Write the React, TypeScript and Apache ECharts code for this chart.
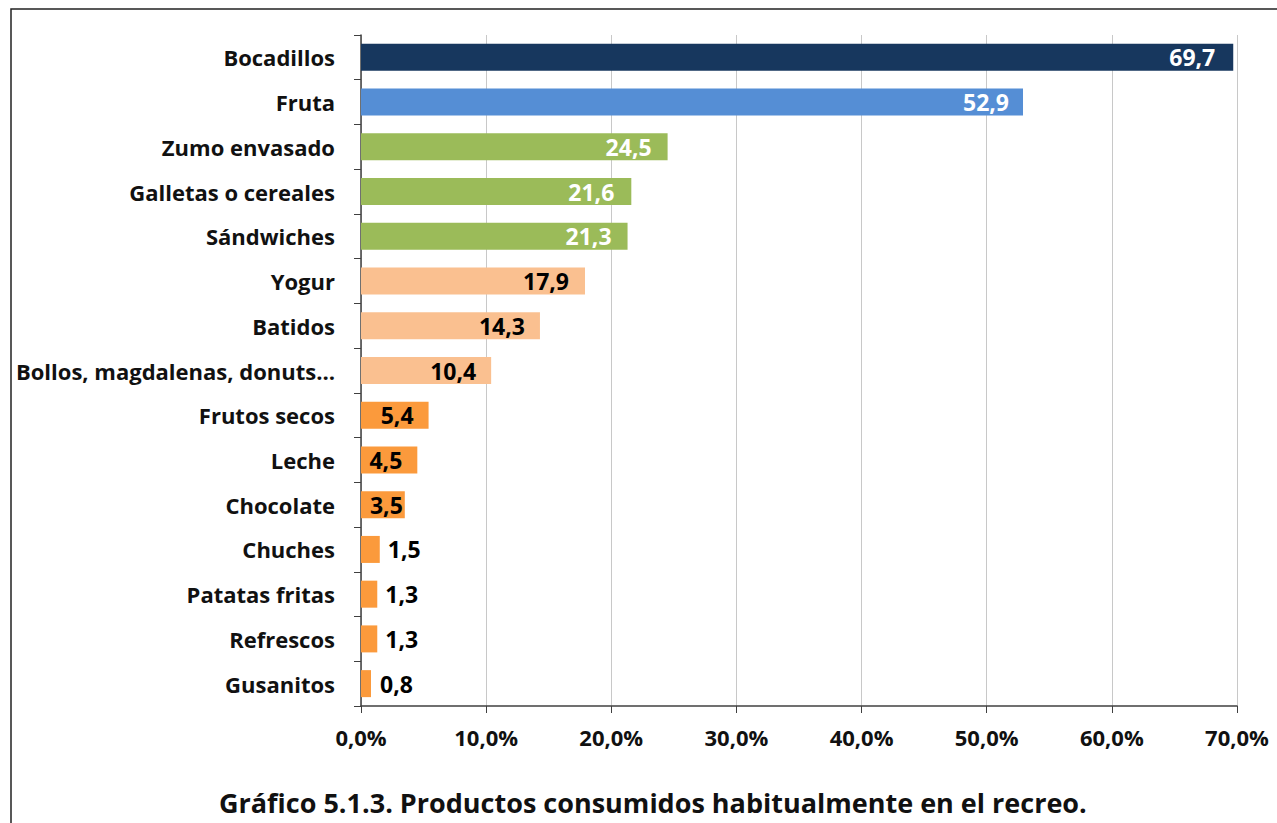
import React, { useEffect, useRef } from "react";
import * as echarts from "echarts";

const categories = [
  "Bocadillos",
  "Fruta",
  "Zumo envasado",
  "Galletas o cereales",
  "Sándwiches",
  "Yogur",
  "Batidos",
  "Bollos, magdalenas, donuts…",
  "Frutos secos",
  "Leche",
  "Chocolate",
  "Chuches",
  "Patatas fritas",
  "Refrescos",
  "Gusanitos",
];
const values = [69.7, 52.9, 24.5, 21.6, 21.3, 17.9, 14.3, 10.4, 5.4, 4.5, 3.5, 1.5, 1.3, 1.3, 0.8];
const barColors = [
  "#17375E", "#558ED5", "#9BBB59", "#9BBB59", "#9BBB59",
  "#FAC090", "#FAC090", "#FAC090",
  "#FB9A3C", "#FB9A3C", "#FB9A3C", "#FB9A3C", "#FB9A3C", "#FB9A3C", "#FB9A3C",
];
const labelColors = [
  "#FFFFFF", "#FFFFFF", "#FFFFFF", "#FFFFFF", "#FFFFFF",
  "#000000", "#000000", "#000000", "#000000", "#000000", "#000000",
  "#000000", "#000000", "#000000", "#000000",
];
const labelInside = [true, true, true, true, true, true, true, true, true, true, true, false, false, false, false];
const labelGap = [18, 14, 16, 17, 16, 16, 15, 15, 15, 15, 2, 8, 8, 8, 9];
const titleText = "Gráfico 5.1.3. Productos consumidos habitualmente en el recreo.";

const FONT = "Open Sans";

export default function App() {
  const ref = useRef<HTMLDivElement>(null);
  useEffect(() => {
    if (!ref.current) return;
    const chart = echarts.init(ref.current, null, { renderer: "svg" });
    const fmt = (v: number) => v.toFixed(1).replace(".", ",");
    chart.setOption({
      animation: false,
      backgroundColor: "#FFFFFF",
      textStyle: { fontFamily: FONT },
      title: {
        text: titleText,
        left: 219,
        top: 789,
        padding: 0,
        textStyle: { fontFamily: FONT, fontSize: 27, fontWeight: "bold", color: "#111" },
      },
      graphic: [
        {
          type: "rect",
          shape: { x: 11, y: 9, width: 1400, height: 1000 },
          style: { fill: "none", stroke: "#222", lineWidth: 1.5 },
          silent: true,
        },
      ],
      grid: { left: 361, right: 40, top: 35, bottom: 117, containLabel: false },
      xAxis: {
        type: "value",
        min: 0,
        max: 70,
        interval: 10,
        axisLine: { show: true, lineStyle: { color: "#404040", width: 1.5 } },
        axisTick: { show: true, length: 7, lineStyle: { color: "#404040" } },
        splitLine: { show: true, lineStyle: { color: "#C8C8C8", width: 1 } },
        axisLabel: {
          formatter: (v: number) => fmt(v) + "%",
          fontFamily: FONT,
          fontSize: 22,
          fontWeight: "bold",
          color: "#111",
          margin: 20,
        },
      },
      yAxis: {
        type: "category",
        inverse: true,
        data: categories,
        axisLine: { show: true, lineStyle: { color: "#404040", width: 1.5 } },
        axisTick: { show: true, length: 7, alignWithLabel: false, lineStyle: { color: "#404040" } },
        axisLabel: {
          fontFamily: FONT,
          fontSize: 22,
          fontWeight: "bold",
          color: "#111",
          margin: 26,
        },
      },
      series: [
        {
          type: "bar",
          barWidth: 27,
          data: values.map((v, i) => ({
            value: v,
            itemStyle: { color: barColors[i] },
            label: {
              show: true,
              position: labelInside[i] ? "insideRight" : "right",
              distance: labelGap[i],
              color: labelColors[i],
              fontFamily: FONT,
              fontSize: 23,
              fontWeight: "bold",
              formatter: () => fmt(v),
            },
          })),
        },
      ],
    });
    return () => chart.dispose();
  }, []);
  return (
    <div
      ref={ref}
      style={{ position: "fixed", left: 0, top: 0, width: 1277, height: 823, background: "#fff" }}
    />
  );
}
